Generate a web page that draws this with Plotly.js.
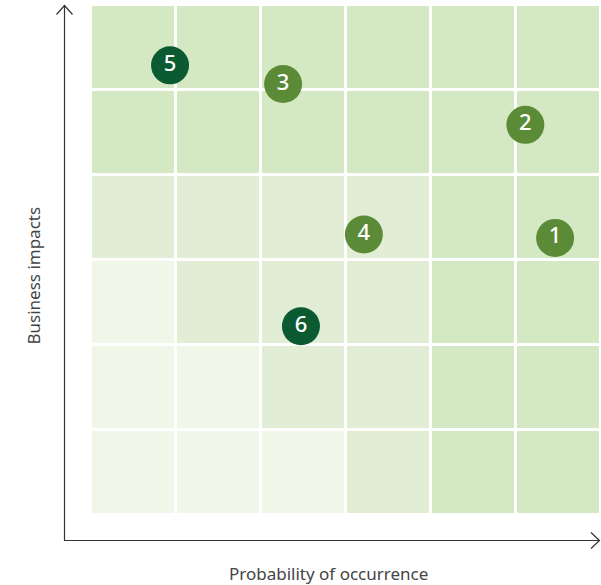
<!DOCTYPE html>
<html>
<head>
<meta charset="utf-8">
<script src="https://cdn.plot.ly/plotly-3.0.1.min.js"></script>
<style>
  html, body { margin: 0; padding: 0; background: #ffffff; }
  #chart { width: 601px; height: 585px; }
</style>
</head>
<body>
<div id="chart"></div>
<script>
// Risk matrix: 6 x 6 grid of probability (x) vs business impact (y)
const gridCols = [0.5, 1.5, 2.5, 3.5, 4.5, 5.5];
const gridRows = [0.5, 1.5, 2.5, 3.5, 4.5, 5.5];
// Shade level of each cell, bottom row first (1 = low, 2 = medium, 3 = high)
const cellLevels = [
  [1, 1, 1, 2, 3, 3],
  [1, 1, 2, 2, 3, 3],
  [1, 2, 2, 2, 3, 3],
  [2, 2, 2, 2, 3, 3],
  [3, 3, 3, 3, 3, 3],
  [3, 3, 3, 3, 3, 3]
];

// Numbered risks
const riskLabels = ['1', '2', '3', '4', '5', '6'];
const riskProbability = [5.46, 5.11, 2.26, 3.21, 0.93, 2.47];
const riskImpact = [3.26, 4.59, 5.07, 3.30, 5.29, 2.22];
const riskGroup = ['olive', 'olive', 'olive', 'olive', 'dark', 'dark'];

const xTitle = 'Probability of occurrence';
const yTitle = 'Business impacts';

const groupColors = { olive: '#5b8b37', dark: '#0b5a32' };

// Plot area in pixels (used to place the arrowed axis lines outside it)
const W = 601, H = 585;
const M = { l: 91, r: 0, t: 5, b: 70 };
const plotW = W - M.l - M.r, plotH = H - M.t - M.b;
const px = p => (p - M.l) / plotW;
const py = q => (H - M.b - q) / plotH;

const axisColor = '#333333';
const axisLine = { color: axisColor, width: 1.2 };

const shapes = [
  // vertical axis with arrow
  { type: 'line', xref: 'paper', yref: 'paper', x0: px(64.5), x1: px(64.5), y0: py(541), y1: py(5.5), line: axisLine },
  { type: 'path', xref: 'paper', yref: 'paper',
    path: `M ${px(56.5)} ${py(14.5)} L ${px(64.5)} ${py(5.5)} L ${px(72.5)} ${py(14.5)}`, line: axisLine },
  // horizontal axis with arrow
  { type: 'line', xref: 'paper', yref: 'paper', x0: px(64), x1: px(599.5), y0: py(540.5), y1: py(540.5), line: axisLine },
  { type: 'path', xref: 'paper', yref: 'paper',
    path: `M ${px(591)} ${py(532.5)} L ${px(599.5)} ${py(540.5)} L ${px(591)} ${py(548.5)}`, line: axisLine }
];

const traces = [
  {
    type: 'heatmap',
    x: gridCols,
    y: gridRows,
    z: cellLevels,
    zmin: 1,
    zmax: 3,
    colorscale: [[0, '#f0f6e8'], [0.5, '#e1eed5'], [1, '#d5e8c4']],
    showscale: false,
    xgap: 3,
    ygap: 3,
    hoverinfo: 'skip'
  },
  {
    type: 'scatter',
    mode: 'markers+text',
    x: riskProbability,
    y: riskImpact,
    text: riskLabels,
    textposition: 'middle center',
    textfont: { family: 'Noto Sans, Open Sans, sans-serif', size: 22, weight: 500, color: '#ffffff' },
    marker: {
      size: 38,
      color: riskGroup.map(g => groupColors[g]),
      line: { width: 0 }
    },
    hoverinfo: 'skip',
    cliponaxis: false
  }
];

const layout = {
  width: W,
  height: H,
  margin: M,
  paper_bgcolor: '#ffffff',
  plot_bgcolor: '#ffffff',
  showlegend: false,
  xaxis: { range: [0, 6], showgrid: false, zeroline: false, showticklabels: false, ticks: '', showline: false, fixedrange: true },
  yaxis: { range: [0, 6], showgrid: false, zeroline: false, showticklabels: false, ticks: '', showline: false, fixedrange: true },
  shapes: shapes,
  annotations: [
    { text: xTitle, xref: 'paper', yref: 'paper', x: px(328), y: py(573), showarrow: false,
      xanchor: 'center', yanchor: 'middle', font: { family: 'Noto Sans, Open Sans, sans-serif', size: 17, color: '#444444' } },
    { text: yTitle, xref: 'paper', yref: 'paper', x: px(32.5), y: py(276), showarrow: false, textangle: -90,
      xanchor: 'center', yanchor: 'middle', font: { family: 'Noto Sans, Open Sans, sans-serif', size: 17, color: '#444444' } }
  ]
};

Plotly.newPlot('chart', traces, layout, { displayModeBar: false, staticPlot: true });
</script>
</body>
</html>
